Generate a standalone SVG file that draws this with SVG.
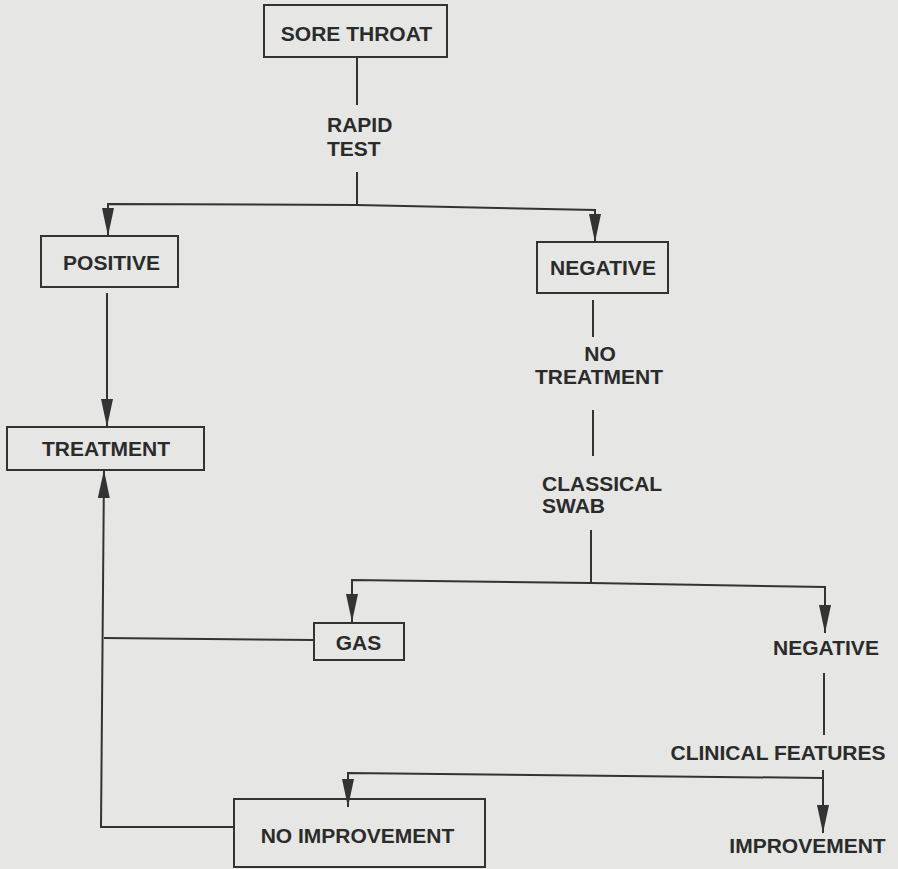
<svg xmlns="http://www.w3.org/2000/svg" width="898" height="869" viewBox="0 0 898 869">
<defs>
<marker id="arr" markerUnits="userSpaceOnUse" markerWidth="28" markerHeight="12" refX="28" refY="6" orient="auto">
<path d="M0,0 L28,6 L0,12 z" fill="#333"/>
</marker>
<style>
.box{fill:none;stroke:#333;stroke-width:2}
.ln{fill:none;stroke:#333;stroke-width:2}
.t{font-family:"Liberation Sans",Arial,sans-serif;font-weight:bold;font-size:21px;fill:#2b2b2b}
.c{text-anchor:middle}
</style>
</defs>
<rect x="0" y="0" width="898" height="869" fill="#e6e6e4"/>
<g id="connectors">
<path class="ln" d="M357,57 L357,105"/>
<path class="ln" d="M357,172 L357,205"/>
<path class="ln" d="M357,205 L108,204 L108,236" marker-end="url(#arr)"/>
<path class="ln" d="M357,205 L595,210 L595,242" marker-end="url(#arr)"/>
<path class="ln" d="M107,293 L107,427" marker-end="url(#arr)"/>
<path class="ln" d="M593,300 L593,337"/>
<path class="ln" d="M593,410 L593,456"/>
<path class="ln" d="M591,530 L591,583"/>
<path class="ln" d="M591,583 L352,580 L352,622" marker-end="url(#arr)"/>
<path class="ln" d="M591,583 L825,587 L825,633" marker-end="url(#arr)"/>
<path class="ln" d="M314,640 L104,638"/>
<path class="ln" d="M234,827 L101,827 L104,470" marker-end="url(#arr)"/>
<path class="ln" d="M824,673 L824,735"/>
<path class="ln" d="M823,770 L823,778"/>
<path class="ln" d="M823,778 L348,773 L348,807" marker-end="url(#arr)"/>
<path class="ln" d="M823,778 L823,833" marker-end="url(#arr)"/>
</g>
<g id="sore-throat">
<rect class="box" x="264" y="5" width="183" height="52"/>
<text class="t c" x="356.5" y="41">SORE THROAT</text>
</g>
<g id="rapid-test">
<text class="t" x="327" y="132">RAPID</text>
<text class="t" x="327" y="156">TEST</text>
</g>
<g id="positive">
<rect class="box" x="41" y="236" width="137" height="51"/>
<text class="t c" x="111.5" y="270">POSITIVE</text>
</g>
<g id="negative1">
<rect class="box" x="537" y="242" width="131" height="51"/>
<text class="t c" x="603" y="275">NEGATIVE</text>
</g>
<g id="no-treatment">
<text class="t c" x="600" y="361">NO</text>
<text class="t c" x="599" y="384">TREATMENT</text>
</g>
<g id="treatment">
<rect class="box" x="7" y="427" width="197" height="43"/>
<text class="t c" x="106" y="456">TREATMENT</text>
</g>
<g id="classical-swab">
<text class="t" x="542" y="491">CLASSICAL</text>
<text class="t" x="542" y="513">SWAB</text>
</g>
<g id="gas">
<rect class="box" x="314" y="623" width="90" height="37"/>
<text class="t c" x="358.5" y="650">GAS</text>
</g>
<g id="negative2">
<text class="t c" x="826" y="655">NEGATIVE</text>
</g>
<g id="clinical-features">
<text class="t c" x="778" y="760">CLINICAL FEATURES</text>
</g>
<g id="no-improvement">
<rect class="box" x="234" y="799" width="251" height="68"/>
<text class="t c" x="357.5" y="843">NO IMPROVEMENT</text>
</g>
<g id="improvement">
<text class="t c" x="807.5" y="853">IMPROVEMENT</text>
</g>
</svg>
